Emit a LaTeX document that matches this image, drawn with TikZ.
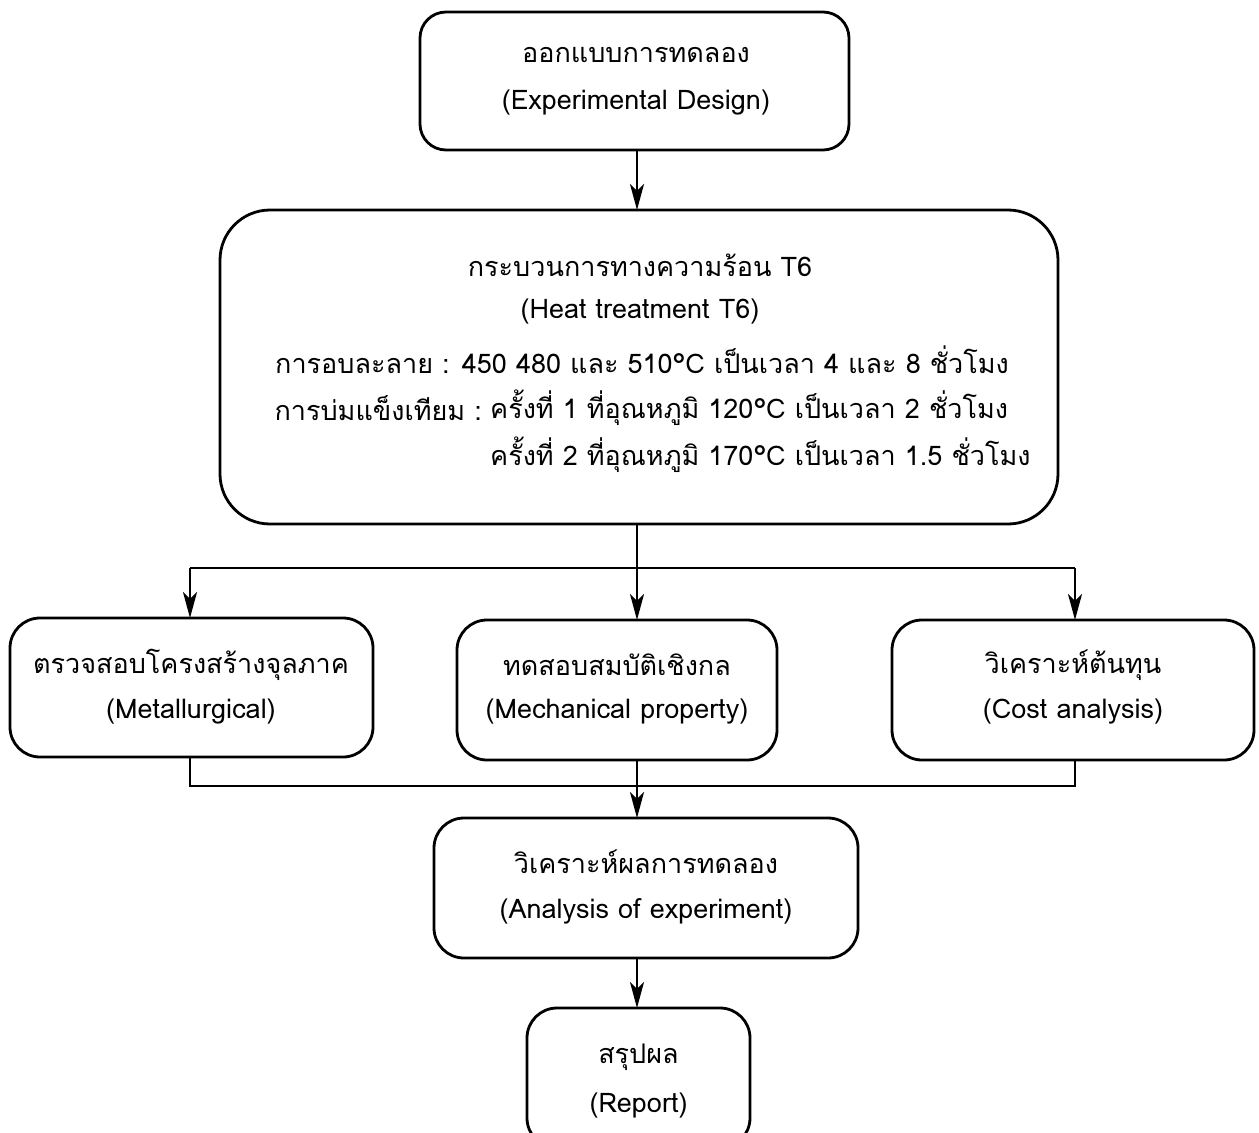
\documentclass[tikz,border=0pt]{standalone}
\usepackage{fontspec}
\setmainfont[Script=Thai]{Loma}
\usetikzlibrary{arrows.meta}
\begin{document}
\begin{tikzpicture}[x=1pt,y=-1pt,
  box/.style={draw,line width=2.8pt,rounded corners=26pt,inner sep=0pt},
  txt/.style={inner sep=0pt,font=\fontsize{27}{31}\selectfont},
  conn/.style={line width=2.8pt},
  arr/.style={line width=2.8pt,-{Stealth[length=26pt,width=14pt,inset=7pt]}}]
\useasboundingbox (0,0) rectangle (1259,1133);
% boxes
\node[box,minimum width=429pt,minimum height=138pt] (top) at (634.5,81) {};
\node[box,rounded corners=50pt,minimum width=838pt,minimum height=314pt] (heat) at (639,367) {};
\node[box,rounded corners=30pt,minimum width=363pt,minimum height=139pt] (left) at (191.5,687.5) {};
\node[box,rounded corners=30pt,minimum width=320pt,minimum height=140pt] (mid) at (617,690) {};
\node[box,rounded corners=30pt,minimum width=362pt,minimum height=140pt] (right) at (1073,690) {};
\node[box,rounded corners=30pt,minimum width=424pt,minimum height=140pt] (ana) at (646,888) {};
\node[box,rounded corners=30pt,minimum width=223pt,minimum height=140pt] (rep) at (638.5,1078) {};
% texts
\node[txt] (t1) at (636,55) {ออกแบบการทดลอง};
\node[txt] (t2) at (636,103) {(Experimental Design)};
\node[txt] (h1) at (640,265) {กระบวนการทางความร้อน T6};
\node[txt] (h2) at (640,312) {(Heat treatment T6)};
\node[txt] (h3) at (642,360) {การอบละลาย : 450 480 และ 510°C เป็นเวลา 4 และ 8 ชั่วโมง};
\node[txt,anchor=west] (h4b) at (490,408) {ครั้งที่ 1 ที่อุณหภูมิ 120°C เป็นเวลา 2 ชั่วโมง};
\node[txt,anchor=east] (h4a) at (h4b.west) {การบ่มแข็งเทียม :\kern8pt};
\node[txt,anchor=west] (h5) at (490,455) {ครั้งที่ 2 ที่อุณหภูมิ 170°C เป็นเวลา 1.5 ชั่วโมง};
\node[txt] (l1) at (191,665) {ตรวจสอบโครงสร้างจุลภาค};
\node[txt] (l2) at (191,712) {(Metallurgical)};
\node[txt] (m1) at (617,665) {ทดสอบสมบัติเชิงกล};
\node[txt] (m2) at (617,712) {(Mechanical property)};
\node[txt] (r1) at (1073,665) {วิเคราะห์ต้นทุน};
\node[txt] (r2) at (1073,712) {(Cost analysis)};
\node[txt] (a1) at (646,862) {วิเคราะห์ผลการทดลอง};
\node[txt] (a2) at (646,911) {(Analysis of experiment)};
\node[txt] (p1) at (638.5,1057) {สรุปผล};
\node[txt] (p2) at (638.5,1105) {(Report)};
% connectors
\coordinate (s1) at (637,150);
\coordinate (e1) at (637,210);
\draw[arr] (s1) -- (e1);
\coordinate (hb) at (637,524);
\coordinate (j1) at (637,568);
\coordinate (jl) at (190,568);
\coordinate (jr) at (1075,568);
\coordinate (lt) at (190,618);
\coordinate (mt) at (637,620);
\coordinate (rt) at (1075,620);
\draw[conn] (hb) -- (j1);
\draw[conn] (jl) -- (jr);
\draw[arr] (jl) -- (lt);
\draw[arr] (j1) -- (mt);
\draw[arr] (jr) -- (rt);
\coordinate (lb) at (190,757);
\coordinate (mb) at (637,760);
\coordinate (rb) at (1075,760);
\coordinate (kl) at (190,786);
\coordinate (kr) at (1075,786);
\coordinate (k1) at (637,786);
\coordinate (at) at (637,818);
\draw[conn] (lb) -- (kl) -- (kr) -- (rb);
\draw[conn] (mb) -- (k1);
\draw[arr] (k1) -- (at);
\coordinate (ab) at (637,958);
\coordinate (pt) at (637,1008);
\draw[arr] (ab) -- (pt);
\end{tikzpicture}
\end{document}
